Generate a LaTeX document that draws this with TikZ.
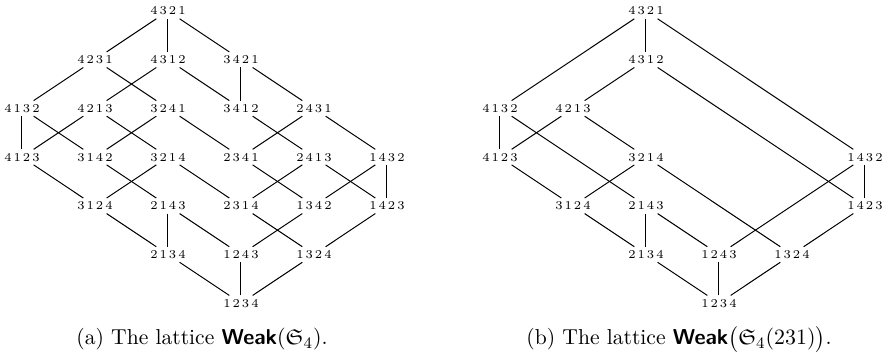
\documentclass[tikz,border=0pt]{standalone}
\usepackage{amsmath}
\usepackage{amssymb}
\usepackage{tikz}

\begin{document}
\begin{tikzpicture}[
  x=36.5pt, y=24.35pt,
  pm/.style={inner sep=1.6pt,font=\fontsize{6}{7}\selectfont},
  ln/.style={line width=0.5pt},
  capt/.style={anchor=base,inner sep=0pt,font=\fontsize{10.8}{13}\selectfont}]

  \useasboundingbox (-0.301,-1.043) rectangle (11.795,6.226);

  % full weak order
  \begin{scope}
    \node[pm] (a4321) at (2,6) {4\,3\,2\,1};
    \node[pm] (a4231) at (1,5) {4\,2\,3\,1};
    \node[pm] (a4312) at (2,5) {4\,3\,1\,2};
    \node[pm] (a3421) at (3,5) {3\,4\,2\,1};
    \node[pm] (a4132) at (0,4) {4\,1\,3\,2};
    \node[pm] (a4213) at (1,4) {4\,2\,1\,3};
    \node[pm] (a3241) at (2,4) {3\,2\,4\,1};
    \node[pm] (a3412) at (3,4) {3\,4\,1\,2};
    \node[pm] (a2431) at (4,4) {2\,4\,3\,1};
    \node[pm] (a4123) at (0,3) {4\,1\,2\,3};
    \node[pm] (a3142) at (1,3) {3\,1\,4\,2};
    \node[pm] (a3214) at (2,3) {3\,2\,1\,4};
    \node[pm] (a2341) at (3,3) {2\,3\,4\,1};
    \node[pm] (a2413) at (4,3) {2\,4\,1\,3};
    \node[pm] (a1432) at (5,3) {1\,4\,3\,2};
    \node[pm] (a3124) at (1,2) {3\,1\,2\,4};
    \node[pm] (a2143) at (2,2) {2\,1\,4\,3};
    \node[pm] (a2314) at (3,2) {2\,3\,1\,4};
    \node[pm] (a1342) at (4,2) {1\,3\,4\,2};
    \node[pm] (a1423) at (5,2) {1\,4\,2\,3};
    \node[pm] (a2134) at (2,1) {2\,1\,3\,4};
    \node[pm] (a1243) at (3,1) {1\,2\,4\,3};
    \node[pm] (a1324) at (4,1) {1\,3\,2\,4};
    \node[pm] (a1234) at (3,0) {1\,2\,3\,4};

    \draw[ln] (a4321) edge (a4231) edge (a4312) edge (a3421);
    \draw[ln] (a4231) edge (a4132) edge (a3241);
    \draw[ln] (a4312) edge (a4213) edge (a3412);
    \draw[ln] (a3421) edge (a3412) edge (a2431);
    \draw[ln] (a4132) edge (a4123) edge (a3142);
    \draw[ln] (a4213) edge (a4123) edge (a3214);
    \draw[ln] (a3241) edge (a3142) edge (a2341);
    \draw[ln] (a3412) edge (a2413);
    \draw[ln] (a2431) edge (a2341) edge (a1432);
    \draw[ln] (a4123) edge (a3124);
    \draw[ln] (a3142) edge (a2143);
    \draw[ln] (a3214) edge (a3124) edge (a2314);
    \draw[ln] (a2341) edge (a1342);
    \draw[ln] (a2413) edge (a2314) edge (a1423);
    \draw[ln] (a1432) edge (a1423) edge (a1342);
    \draw[ln] (a3124) edge (a2134);
    \draw[ln] (a2143) edge (a2134) edge (a1243);
    \draw[ln] (a2314) edge (a1324);
    \draw[ln] (a1342) edge (a1243);
    \draw[ln] (a1423) edge (a1324);
    \draw[ln] (a1234) edge (a2134) edge (a1243) edge (a1324);

    \node[capt] (capa) at (2.466,-0.858) {(a) The lattice \textsf{\textbf{Weak}}$(\mathfrak{S}_4)$.};
  \end{scope}

  % 231-avoiding part
  \begin{scope}[xshift=239pt]
    \node[pm] (b4321) at (2,6) {4\,3\,2\,1};
    \node[pm] (b4312) at (2,5) {4\,3\,1\,2};
    \node[pm] (b4132) at (0,4) {4\,1\,3\,2};
    \node[pm] (b4213) at (1,4) {4\,2\,1\,3};
    \node[pm] (b4123) at (0,3) {4\,1\,2\,3};
    \node[pm] (b3214) at (2,3) {3\,2\,1\,4};
    \node[pm] (b1432) at (5,3) {1\,4\,3\,2};
    \node[pm] (b3124) at (1,2) {3\,1\,2\,4};
    \node[pm] (b2143) at (2,2) {2\,1\,4\,3};
    \node[pm] (b1423) at (5,2) {1\,4\,2\,3};
    \node[pm] (b2134) at (2,1) {2\,1\,3\,4};
    \node[pm] (b1243) at (3,1) {1\,2\,4\,3};
    \node[pm] (b1324) at (4,1) {1\,3\,2\,4};
    \node[pm] (b1234) at (3,0) {1\,2\,3\,4};

    \draw[ln] (b4321) edge (b4312) edge (b4132) edge (b1432);
    \draw[ln] (b4312) edge (b4213) edge (b1423);
    \draw[ln] (b4132) edge (b4123) edge (b2143);
    \draw[ln] (b4213) edge (b4123) edge (b3214);
    \draw[ln] (b4123) edge (b3124);
    \draw[ln] (b3214) edge (b3124) edge (b1324);
    \draw[ln] (b1432) edge (b1423) edge (b1243);
    \draw[ln] (b3124) edge (b2134);
    \draw[ln] (b2143) edge (b2134) edge (b1243);
    \draw[ln] (b1423) edge (b1324);
    \draw[ln] (b1234) edge (b2134) edge (b1243) edge (b1324);

    \node[capt] (capb) at (2.452,-0.858) {(b) The lattice \textsf{\textbf{Weak}}$\big(\mathfrak{S}_4(231)\big)$.};
  \end{scope}
\end{tikzpicture}
\end{document}
